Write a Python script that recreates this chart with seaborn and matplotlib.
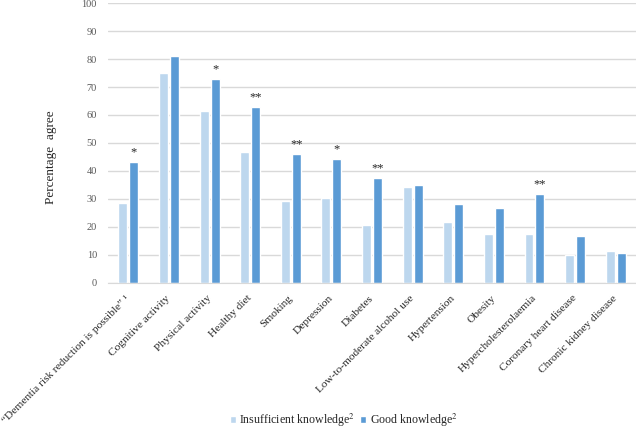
import pandas as pd
import seaborn as sns
import matplotlib.pyplot as plt

# Chart data
categories = [
    "\u201cDementia risk reduction is possible\u201d \u00b9",
    "Cognitive activity", "Physical activity", "Healthy diet", "Smoking",
    "Depression", "Diabetes", "Low-to-moderate alcohol use", "Hypertension",
    "Obesity", "Hypercholesterolaemia", "Coronary heart disease",
    "Chronic kidney disease",
]
insufficient = [28.6, 75.0, 61.4, 46.8, 29.3, 30.5, 20.8, 34.4, 21.8, 17.5, 17.6, 10.0, 11.4]
good = [43.2, 81.2, 73.0, 62.9, 46.1, 44.3, 37.5, 35.1, 28.3, 26.9, 31.9, 16.8, 10.7]
stars = ["*", "", "*", "**", "**", "*", "**", "", "", "", "**", "", ""]
groups = ["Insufficient knowledge$^{2}$", "Good knowledge$^{2}$"]
colors = ["#BDD7EE", "#5B9BD5"]

# Long format for seaborn
df = pd.DataFrame({
    "Category": categories * 2,
    "Value": insufficient + good,
    "Group": [groups[0]] * len(categories) + [groups[1]] * len(categories),
})

sns.set_style("white")
plt.rcParams['font.family'] = ['Liberation Serif', 'DejaVu Serif']
plt.rcParams['mathtext.fontset'] = 'stix'

fig = plt.figure(figsize=(6.36, 4.32), dpi=100)
ax = fig.add_axes([0.170, 0.345, 0.83, 0.648])

sns.barplot(data=df, x="Category", y="Value", hue="Group", palette=colors,
            saturation=1, width=0.54, gap=0.18, ax=ax, legend=True)

# Significance markers above the good-knowledge bars
for bar, s in zip(ax.containers[1], stars):
    if s:
        ax.text(bar.get_x() + bar.get_width() / 2, bar.get_height() + 1.2, s,
                ha="center", va="bottom", fontsize=9)

ax.set_ylim(0, 100)
ax.set_xlim(-0.5, len(categories) - 0.5)
ax.set_yticks(range(0, 101, 10))
ax.yaxis.grid(True, color="#D9D9D9", linewidth=1)
ax.set_axisbelow(True)
for side in ["top", "right", "left"]:
    ax.spines[side].set_visible(False)
ax.spines["bottom"].set_color("#D9D9D9")
ax.tick_params(axis="y", labelsize=7.5, labelcolor="#595959", length=0, pad=8)
ax.tick_params(axis="x", labelsize=8.2, length=0, pad=10)
plt.setp(ax.get_xticklabels(), rotation=45, ha="right", va="center",
         rotation_mode="anchor")

ax.set_xlabel("")
ax.set_ylabel("Percentage  agree", fontsize=9.5)
ax.yaxis.set_label_coords(-0.097, 0.45)

handles, labels = ax.get_legend_handles_labels()
ax.get_legend().remove()
fig.legend(handles, labels, loc="center", bbox_to_anchor=(0.54, 0.028),
           ncol=2, frameon=False, fontsize=8.6, handlelength=0.5, handleheight=0.5,
           handletextpad=0.3, columnspacing=0.4)

plt.savefig("out.png", dpi=100)
